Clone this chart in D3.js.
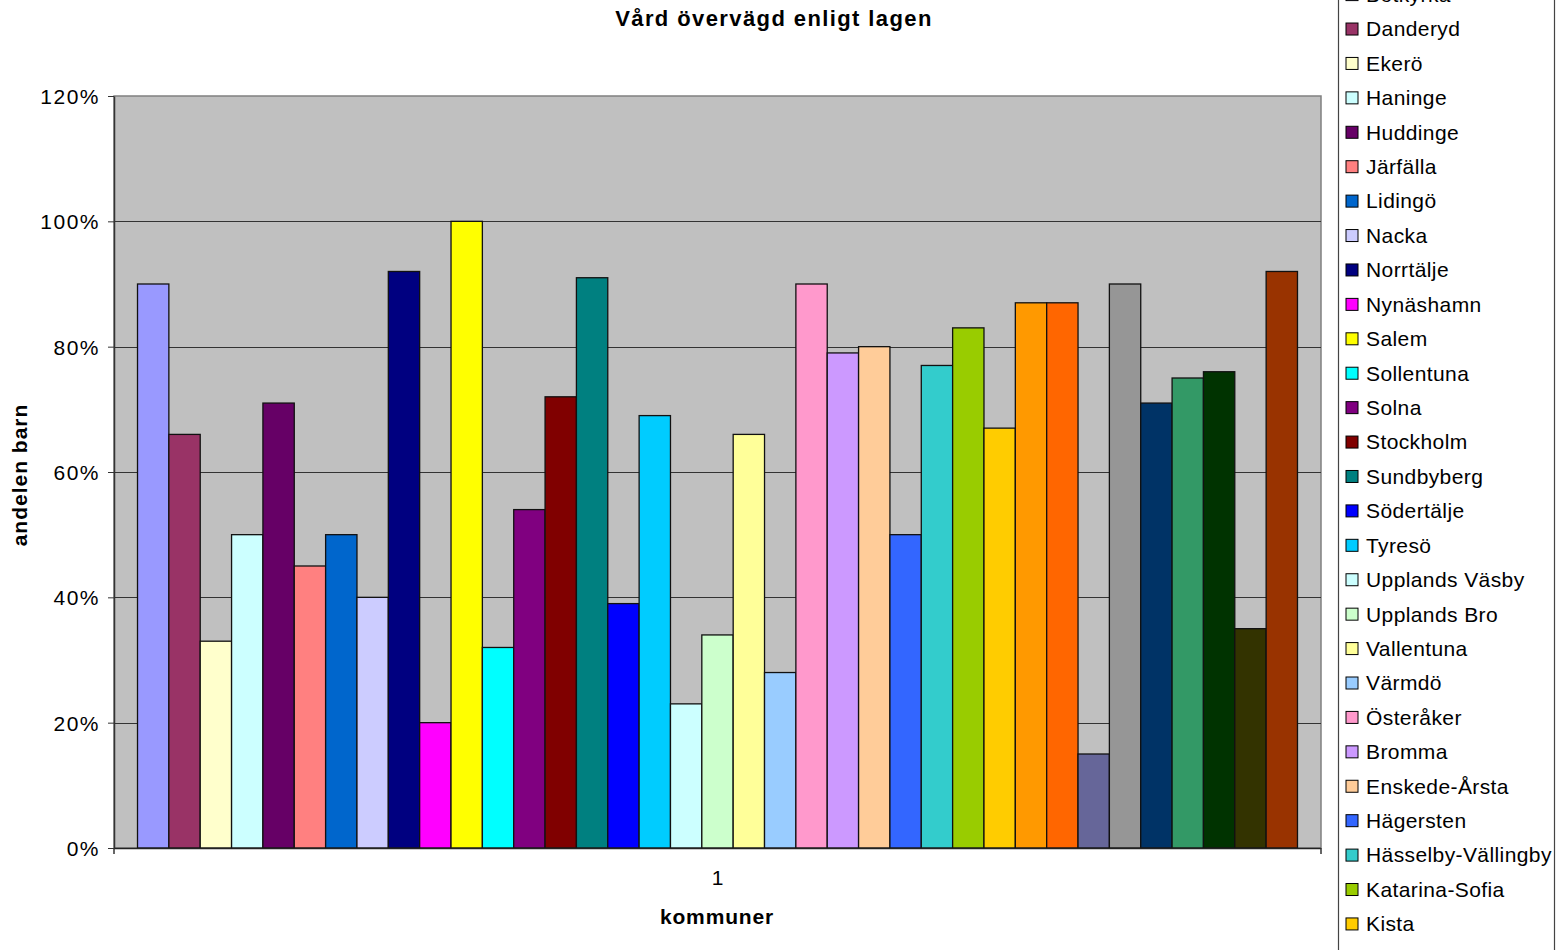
<!DOCTYPE html>
<html><head><meta charset="utf-8">
<script src="https://cdn.jsdelivr.net/npm/d3@7"></script>
<style>
html,body{margin:0;padding:0;background:#fff;overflow:hidden;}
svg{display:block;font-family:"Liberation Sans",Arial,sans-serif;}
</style></head>
<body>
<svg id="chart" width="1559" height="950"></svg>
<script>
const title = "Vård övervägd enligt lagen";
const xTitle = "kommuner";
const yTitle = "andelen barn";
const category = ["1"];
const seriesNames = ["Botkyrka","Danderyd","Ekerö","Haninge","Huddinge","Järfälla","Lidingö","Nacka","Norrtälje","Nynäshamn","Salem","Sollentuna","Solna","Stockholm","Sundbyberg","Södertälje","Tyresö","Upplands Väsby","Upplands Bro","Vallentuna","Värmdö","Österåker","Bromma","Enskede-Årsta","Hägersten","Hässelby-Vällingby","Katarina-Sofia","Kista","Kungsholmen","Maria-Gamla stan","Norrmalm","Rinkeby","Skarpnäck","Skärholmen","Spånga-Tensta","Vantör","Östermalm"];
const seriesValues = [0.90,0.66,0.33,0.50,0.71,0.45,0.50,0.40,0.92,0.20,1.00,0.32,0.54,0.72,0.91,0.39,0.69,0.23,0.34,0.66,0.28,0.90,0.79,0.80,0.50,0.77,0.83,0.67,0.87,0.87,0.15,0.90,0.71,0.75,0.76,0.35,0.92];
const seriesColors = ["#9999FF","#993366","#FFFFCC","#CCFFFF","#660066","#FF8080","#0066CC","#CCCCFF","#000080","#FF00FF","#FFFF00","#00FFFF","#800080","#800000","#008080","#0000FF","#00CCFF","#CCFFFF","#CCFFCC","#FFFF99","#99CCFF","#FF99CC","#CC99FF","#FFCC99","#3366FF","#33CCCC","#99CC00","#FFCC00","#FF9900","#FF6600","#666699","#969696","#003366","#339966","#003300","#333300","#993300"];
const yTicks = [0,0.2,0.4,0.6,0.8,1.0,1.2];

const svg = d3.select("#chart");
const plot = {left:114, top:96, right:1321, bottom:848};

const y = d3.scaleLinear().domain([0,1.2]).range([plot.bottom, plot.top]);
const x0 = d3.scaleBand().domain(category).range([plot.left, plot.right]).paddingInner(0).paddingOuter(0);
// Excel gap width 150%: each side gets 0.75 of a bar width
const n = seriesNames.length;
const barW = x0.bandwidth() / (n + 1.5);
const x1 = d3.scaleBand().domain(seriesNames)
  .range([plot.left + 0.75*barW, plot.right - 0.75*barW]).padding(0);

// plot background
svg.append("rect").attr("x",plot.left).attr("y",plot.top)
  .attr("width",plot.right-plot.left).attr("height",plot.bottom-plot.top)
  .attr("fill","#C0C0C0").attr("stroke","#808080").attr("stroke-width",1.5);

// gridlines
svg.append("g").selectAll("line").data(yTicks.filter(d=>d>0 && d<1.2)).join("line")
  .attr("x1",plot.left).attr("x2",plot.right)
  .attr("y1",d=>Math.round(y(d))+0.5).attr("y2",d=>Math.round(y(d))+0.5)
  .attr("stroke","#333").attr("stroke-width",1);

// bars
svg.append("g").selectAll("rect").data(seriesNames.map((s,i)=>({s,v:seriesValues[i],c:seriesColors[i]}))).join("rect")
  .attr("x",d=>x1(d.s)).attr("width",x1.bandwidth())
  .attr("y",d=>y(d.v)).attr("height",d=>y(0)-y(d.v))
  .attr("fill",d=>d.c).attr("stroke","#111").attr("stroke-width",1.3);

// y axis
const yAxis = d3.axisLeft(y).tickValues(yTicks).tickFormat(d3.format(".0%")).tickSize(6).tickSizeOuter(0);
const gy = svg.append("g").attr("transform",`translate(${plot.left},0)`).call(yAxis);
gy.select(".domain").attr("stroke","#333").attr("stroke-width",1.5);
gy.selectAll(".tick line").attr("stroke","#333");
gy.selectAll(".tick text").attr("font-size",21).attr("letter-spacing",1.5).attr("fill","#000").attr("x",-14).attr("dy","0.35em")
  .attr("font-family","Liberation Sans, Arial, sans-serif");

// x axis
const xAxis = d3.axisBottom(x0).tickSize(0).tickPadding(22);
const gx = svg.append("g").attr("transform",`translate(0,${plot.bottom})`).call(xAxis);
gx.select(".domain").remove();
gx.selectAll(".tick text").attr("font-size",21).attr("fill","#000").attr("font-family","Liberation Sans, Arial, sans-serif");
svg.append("line").attr("x1",plot.left).attr("x2",plot.right).attr("y1",plot.bottom+0.5).attr("y2",plot.bottom+0.5).attr("stroke","#222").attr("stroke-width",1.5);
[plot.left, plot.right].forEach(px=>{
  svg.append("line").attr("x1",px).attr("x2",px).attr("y1",plot.bottom).attr("y2",plot.bottom+6).attr("stroke","#333").attr("stroke-width",1.5);
});

// titles
svg.append("text").attr("x",774).attr("y",26).attr("text-anchor","middle")
  .attr("font-size",22).attr("letter-spacing",1.4).attr("font-weight","bold").text(title);
svg.append("text").attr("x",717).attr("y",924).attr("text-anchor","middle")
  .attr("font-size",21).attr("letter-spacing",0.85).attr("font-weight","bold").text(xTitle);
svg.append("text").attr("transform","translate(27,475) rotate(-90)").attr("text-anchor","middle")
  .attr("font-size",21).attr("letter-spacing",1).attr("font-weight","bold").text(yTitle);

// legend
const legStep = 34.42, legFirst = -5.4;
const leg = svg.append("g");
leg.append("rect").attr("x",1338.5).attr("y",legFirst-20).attr("width",216).attr("height",n*legStep+30)
  .attr("fill","#fff").attr("stroke","#444").attr("stroke-width",1.2);
const items = leg.selectAll("g.item").data(seriesNames.map((s,i)=>({s,c:seriesColors[i],i}))).join("g")
  .attr("class","item").attr("transform",d=>`translate(0,${legFirst + d.i*legStep})`);
items.append("rect").attr("x",1346).attr("y",-6).attr("width",12).attr("height",12)
  .attr("fill",d=>d.c).attr("stroke","#000").attr("stroke-width",1);
items.append("text").attr("x",1366).attr("y",0).attr("dy","0.35em").attr("font-size",21).attr("letter-spacing",0.4).text(d=>d.s);
</script>
</body></html>
